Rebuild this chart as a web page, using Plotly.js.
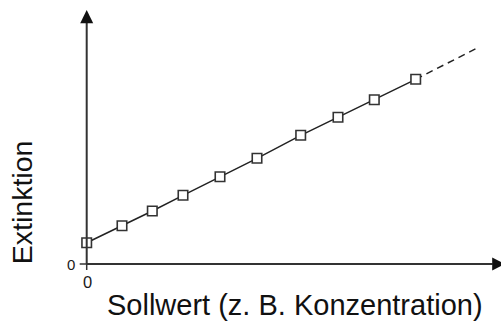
<!DOCTYPE html>
<html>
<head>
<meta charset="utf-8">
<script src="https://cdn.plot.ly/plotly-3.0.1.min.js"></script>
<style>html,body{margin:0;padding:0;background:#fff;}#chart{width:501px;height:325px;}</style>
</head>
<body>
<div id="chart"></div>
<script>
// Data (arbitrary units)
const sollwert = [0, 3.53, 6.56, 9.63, 13.33, 17.03, 21.4, 25.13, 28.76, 32.9];
const extinktion = [2.13, 3.83, 5.3, 6.87, 8.73, 10.57, 12.87, 14.67, 16.43, 18.47];
const extX = [32.9, 39.0];
const extY = [18.47, 21.57];
const xTitle = "Sollwert (z. B. Konzentration)";
const yTitle = "Extinktion";
const zeroLabel = "0";

const axisColor = "#333333";
const font = "Liberation Sans, Arial, Helvetica, sans-serif";

const traces = [
  {x: extX, y: extY, mode: "lines", line: {color: "#222", width: 1.5, dash: "7px,5px"}, hoverinfo: "skip"},
  {x: sollwert, y: extinktion, mode: "lines+markers",
   line: {color: "#222", width: 1.5},
   marker: {symbol: "square", size: 9.5, color: "#fff", line: {color: "#333", width: 1.6}}}
];

const xEnd = 40.6, yEnd = 24.13;
const layout = {
  width: 501, height: 325,
  margin: {l: 0, r: 0, t: 0, b: 0},
  paper_bgcolor: "#fff", plot_bgcolor: "#fff",
  showlegend: false,
  xaxis: {range: [-8.67, 41.43], visible: false, fixedrange: true},
  yaxis: {range: [-6.1, 26.4], visible: false, fixedrange: true},
  shapes: [
    {type: "line", xref: "x", yref: "y", x0: 0, y0: 0, x1: xEnd, y1: 0, line: {color: axisColor, width: 2}},
    {type: "line", xref: "x", yref: "y", x0: 0, y0: 0, x1: 0, y1: yEnd, line: {color: axisColor, width: 2}},
    {type: "path", xref: "x", yref: "y", path: `M ${xEnd-0.05},-0.65 L 41.8,0 L ${xEnd-0.05},0.65 Z`, fillcolor: "#111", line: {width: 0}},
    {type: "path", xref: "x", yref: "y", path: `M -0.65,${yEnd-0.05} L 0,25.4 L 0.65,${yEnd-0.05} Z`, fillcolor: "#111", line: {width: 0}},
    {type: "line", xref: "x", yref: "y", x0: -0.7, y0: 0, x1: 0, y1: 0, line: {color: axisColor, width: 1.5}},
    {type: "line", xref: "x", yref: "y", x0: 0, y0: 0, x1: 0, y1: -0.6, line: {color: axisColor, width: 1.5}}
  ],
  annotations: [
    {text: zeroLabel, x: -1.6, y: 0, xref: "x", yref: "y", showarrow: false, xanchor: "center", yanchor: "middle", font: {family: font, size: 15, color: "#1a1a1a"}},
    {text: zeroLabel, x: 0.05, y: -1.75, xref: "x", yref: "y", showarrow: false, xanchor: "center", yanchor: "middle", font: {family: font, size: 16.5, color: "#1a1a1a"}},
    {text: xTitle, x: 20.8, y: -4.05, xref: "x", yref: "y", showarrow: false, xanchor: "center", yanchor: "middle", font: {family: font, size: 29, color: "#111"}},
    {text: yTitle, x: -6.5, y: 6.15, xref: "x", yref: "y", showarrow: false, textangle: -90, xanchor: "center", yanchor: "middle", font: {family: font, size: 28.5, color: "#111"}}
  ]
};

Plotly.newPlot("chart", traces, layout, {staticPlot: true, displayModeBar: false});
</script>
</body>
</html>
